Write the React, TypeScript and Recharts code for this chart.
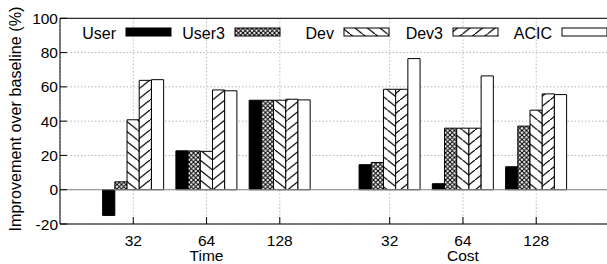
import React from "react";
import {
  BarChart,
  Bar,
  XAxis,
  YAxis,
  CartesianGrid,
  ReferenceLine,
  Label,
} from "recharts";

const groups = ["Time", "Cost"];
const threads = ["32", "64", "128", "32", "64", "128"];
const xPos = [1, 2, 3, 4.5, 5.5, 6.5];
const user = [-15, 22.7, 52.2, 14.6, 3.5, 13.4];
const user3 = [4.6, 22.6, 52.2, 15.9, 35.9, 37.1];
const dev = [40.8, 22.4, 52.2, 58.6, 35.9, 46.4];
const dev3 = [63.8, 58.2, 52.8, 58.6, 35.9, 55.9];
const acic = [64.2, 57.7, 52.4, 76.5, 66.4, 55.5];
const yTicks = [-20, 0, 20, 40, 60, 80, 100];

const series = [
  { key: "User", fill: "#000" },
  { key: "User3", fill: "url(#pCross)" },
  { key: "Dev", fill: "url(#pBack)" },
  { key: "Dev3", fill: "url(#pFwd)" },
  { key: "ACIC", fill: "#fff" },
];

const data = xPos.map((x, i) => ({
  x,
  User: user[i],
  User3: user3[i],
  Dev: dev[i],
  Dev3: dev3[i],
  ACIC: acic[i],
}));

const font = "'Liberation Sans', Arial, sans-serif";

function XTick({ x, y, payload }) {
  const i = xPos.indexOf(payload.value);
  const grp = i === 1 ? groups[0] : i === 4 ? groups[1] : null;
  return (
    <g>
      <line x1={x} x2={x} y1={y} y2={y - 7} stroke="#000" />
      <text x={x} y={y + 21.5} textAnchor="middle" fontSize={15.5} fill="#000">
        {threads[i]}
      </text>
      {grp && (
        <text x={x} y={y + 37} textAnchor="middle" fontSize={15.5} fill="#000">
          {grp}
        </text>
      )}
    </g>
  );
}

function YTick({ x, y, payload }) {
  return (
    <g>
      <line x1={x + 2} x2={x + 9} y1={y} y2={y} stroke="#000" />
      <text x={x} y={y} dy="0.36em" textAnchor="end" fontSize={15.5} fill="#000">
        {payload.value}
      </text>
    </g>
  );
}

// legend drawn as an overlay, inside the top of the frame
function LegendBox() {
  return (
    <svg width={607} height={20} style={{ display: "block" }}>
      {series.map((s, k) => {
        const bx = 126 + 109 * k;
        return (
          <g key={s.key}>
            <text x={bx - 10} y={14.5} textAnchor="end" fontSize={16} fill="#000" fontFamily={font}>
              {s.key}
            </text>
            <rect x={bx} y={4} width={45} height={8} fill={s.fill} stroke="#000" />
          </g>
        );
      })}
    </svg>
  );
}

export default function App() {
  return (
    <div style={{ position: "absolute", left: 0, top: 0, width: 607, height: 264, overflow: "hidden", background: "#fff" }}>
      <BarChart
        width={612}
        height={264}
        data={data}
        margin={{ top: 18.3, right: 2.5, bottom: 0, left: 0 }}
        barGap={0}
        style={{ fontFamily: font }}
      >
        <defs>
          <pattern id="pCross" patternUnits="userSpaceOnUse" width={4.5} height={4.5}>
            <rect width={4.5} height={4.5} fill="#fff" />
            <path d="M0,0 L4.5,4.5 M4.5,0 L0,4.5" stroke="#000" strokeWidth={1.1} />
          </pattern>
          <pattern id="pBack" patternUnits="userSpaceOnUse" width={12.5} height={10}>
            <rect width={12.5} height={10} fill="#fff" />
            <path d="M-1.25,-1 L13.75,11" stroke="#000" strokeWidth={1.2} />
          </pattern>
          <pattern id="pFwd" patternUnits="userSpaceOnUse" width={12.5} height={10}>
            <rect width={12.5} height={10} fill="#fff" />
            <path d="M-1.25,11 L13.75,-1" stroke="#000" strokeWidth={1.2} />
          </pattern>
        </defs>
        <CartesianGrid stroke="#b8b8b8" strokeDasharray="1.5 2" />
        <XAxis
          type="number"
          dataKey="x"
          domain={[0, 7.5]}
          ticks={xPos}
          height={40}
          tickLine={false}
          tickSize={0}
          tickMargin={0}
          tick={XTick}
          axisLine={{ stroke: "#000" }}
          allowDecimals
        />
        <YAxis
          domain={[-20, 100]}
          ticks={yTicks}
          width={60}
          tickLine={false}
          tickSize={0}
          tickMargin={2}
          tick={YTick}
          axisLine={{ stroke: "#000" }}
        >
          <Label
            content={() => (
              <text
                transform="translate(15,119) rotate(-90)"
                textAnchor="middle"
                dominantBaseline="central"
                fontSize={16.2}
                fill="#000"
                fontFamily={font}
              >
                Improvement over baseline (%)
              </text>
            )}
          />
        </YAxis>
        <ReferenceLine y={0} stroke="#888" />
        <ReferenceLine y={100} stroke="#000" />
        <ReferenceLine x={7.5} stroke="#000" />
        {series.map((s) => (
          <Bar
            key={s.key}
            dataKey={s.key}
            fill={s.fill}
            stroke="#000"
            strokeWidth={1}
            barSize={12.2}
            isAnimationActive={false}
          />
        ))}
      </BarChart>
      <div style={{ position: "absolute", left: 0, top: 24 }}>
        <LegendBox />
      </div>
    </div>
  );
}
